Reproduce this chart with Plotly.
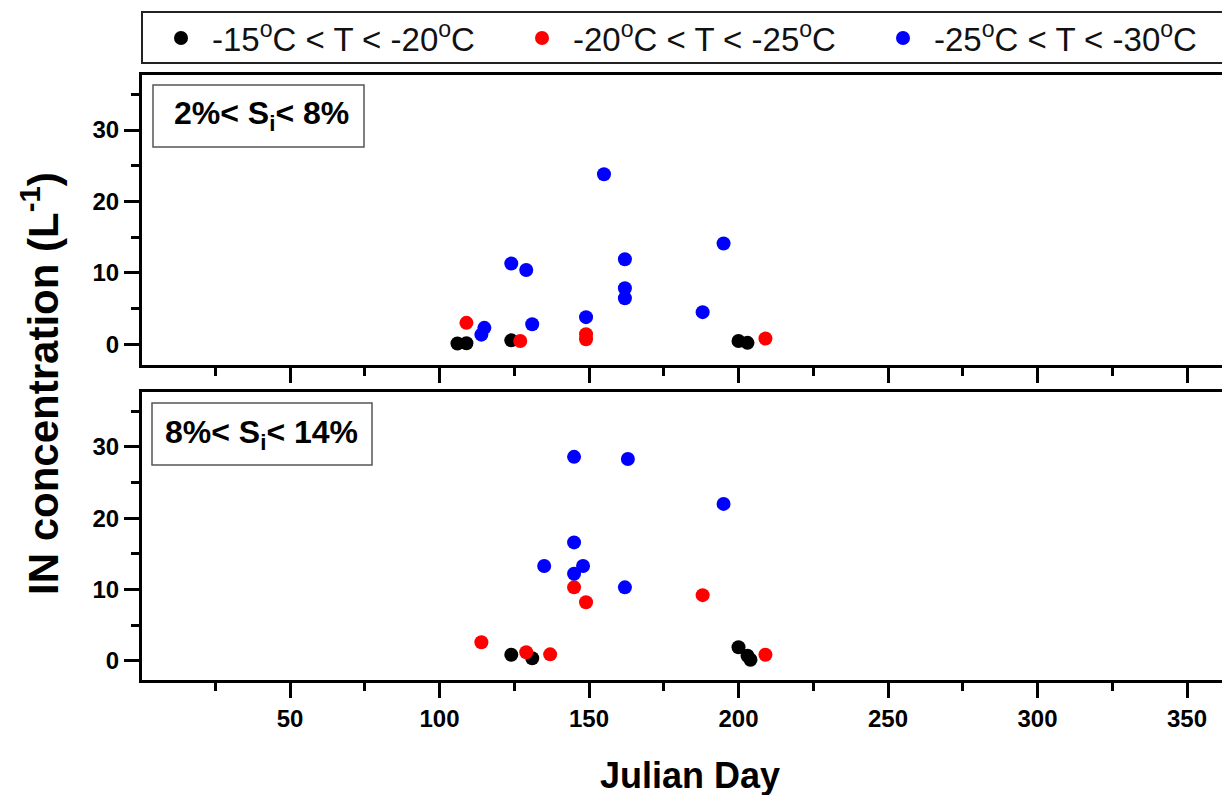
import plotly.graph_objects as go

# ---- data (Julian day, IN concentration L^-1) ----
series_names = ["-15<sup>o</sup>C < T < -20<sup>o</sup>C",
                "-20<sup>o</sup>C < T < -25<sup>o</sup>C",
                "-25<sup>o</sup>C < T < -30<sup>o</sup>C"]
series_colors = ["#000000", "#ff0000", "#0000ff"]

# top panel: 2% < Si < 8%
top_black_day = [106, 109, 124, 200, 203]
top_black_val = [0.1, 0.15, 0.55, 0.45, 0.2]
top_red_day = [109, 127, 149, 149, 209]
top_red_val = [3.0, 0.45, 1.4, 0.7, 0.8]
top_blue_day = [114, 115, 124, 129, 131, 149, 155, 162, 162, 162, 188, 195]
top_blue_val = [1.35, 2.3, 11.3, 10.4, 2.8, 3.8, 23.8, 11.9, 7.85, 6.45, 4.5, 14.1]

# bottom panel: 8% < Si < 14%
bot_black_day = [124, 131, 200, 203, 204]
bot_black_val = [0.85, 0.35, 1.9, 0.7, 0.15]
bot_red_day = [114, 129, 137, 145, 149, 188, 209]
bot_red_val = [2.6, 1.2, 0.9, 10.3, 8.2, 9.2, 0.85]
bot_blue_day = [135, 145, 145, 145, 148, 162, 163, 195]
bot_blue_val = [13.3, 12.2, 16.6, 28.6, 13.3, 10.3, 28.3, 22.0]

panel_labels = ["<b>2%< S<sub>i</sub>< 8%</b>", "<b>8%< S<sub>i</sub>< 14%</b>"]
x_major = [50, 100, 150, 200, 250, 300, 350]
y_major = [0, 10, 20, 30]

# page body has an 8px margin: figure is drawn at (8, 8) in the window
OFF = 8
W, H = 1230 - OFF, 795 - OFF
FONT = "Liberation Sans, Arial, sans-serif"

def px(x):
    return (x - OFF) / W

def py(y):
    return 1 - (y - OFF) / H

fig = go.Figure()

top = [(top_black_day, top_black_val), (top_red_day, top_red_val), (top_blue_day, top_blue_val)]
bot = [(bot_black_day, bot_black_val), (bot_red_day, bot_red_val), (bot_blue_day, bot_blue_val)]

for i, (d, v) in enumerate(top):
    fig.add_trace(go.Scatter(x=d, y=v, mode="markers", name=series_names[i],
                             marker=dict(color=series_colors[i], size=14),
                             xaxis="x", yaxis="y", showlegend=True))
for i, (d, v) in enumerate(bot):
    fig.add_trace(go.Scatter(x=d, y=v, mode="markers", name=series_names[i],
                             marker=dict(color=series_colors[i], size=14),
                             xaxis="x2", yaxis="y2", showlegend=False))

tick_font = dict(family=FONT, size=24, color="black", weight="bold")
common_x = dict(range=[0.5, 363.7], showline=True, linewidth=3, linecolor="black",
                mirror=True, ticks="outside", ticklen=15, tickwidth=3, tickcolor="black",
                tickvals=x_major, showgrid=False, zeroline=False, automargin=False,
                minor=dict(ticks="outside", ticklen=8, tickwidth=3, tickcolor="black",
                           tick0=25, dtick=50),
                tickfont=tick_font)
common_y = dict(showline=True, linewidth=3, linecolor="black", mirror=True,
                ticks="outside", ticklen=15, tickwidth=3, tickcolor="black",
                tickvals=y_major, showgrid=False, zeroline=False, automargin=False,
                minor=dict(ticks="outside", ticklen=8, tickwidth=3, tickcolor="black",
                           tick0=5, dtick=10),
                tickfont=tick_font)

fig.update_layout(
    width=W, height=H,
    margin=dict(l=0, r=0, t=0, b=0, autoexpand=False),
    paper_bgcolor="white", plot_bgcolor="white",
    xaxis=dict(domain=[px(142), px(1228)], anchor="y", showticklabels=False, **common_x),
    yaxis=dict(domain=[py(365), py(75)], anchor="x", range=[-2.9, 37.7], **common_y),
    xaxis2=dict(domain=[px(142), px(1228)], anchor="y2", showticklabels=True, **common_x),
    yaxis2=dict(domain=[py(680), py(392)], anchor="x2", range=[-2.7, 37.7], **common_y),
    legend=dict(orientation="h", x=px(150), xanchor="left", y=py(38), yanchor="middle",
                bgcolor="rgba(0,0,0,0)", borderwidth=0, itemwidth=52,
                entrywidth=294, entrywidthmode="pixels",
                font=dict(family=FONT, size=33, color="#111111")),
    showlegend=True,
)

# legend frame
fig.add_shape(type="rect", xref="paper", yref="paper",
              x0=px(142), x1=px(1228), y0=py(63), y1=py(12),
              line=dict(color="#222222", width=2), fillcolor="rgba(0,0,0,0)")

# panel label boxes
fig.add_shape(type="rect", xref="paper", yref="paper",
              x0=px(153), x1=px(364), y0=py(147), y1=py(85),
              line=dict(color="#555555", width=1.5))
fig.add_shape(type="rect", xref="paper", yref="paper",
              x0=px(152), x1=px(372), y0=py(465), y1=py(403),
              line=dict(color="#555555", width=1.5))
fig.add_annotation(xref="paper", yref="paper", x=px(262), y=py(116),
                   text=panel_labels[0], showarrow=False,
                   font=dict(family=FONT, size=32, color="black"),
                   xanchor="center", yanchor="middle")
fig.add_annotation(xref="paper", yref="paper", x=px(262), y=py(434),
                   text=panel_labels[1], showarrow=False,
                   font=dict(family=FONT, size=32, color="black"),
                   xanchor="center", yanchor="middle")

# axis titles
fig.add_annotation(xref="paper", yref="paper", x=px(40), y=py(384),
                   text="<b>IN concentration (L<sup>-1</sup>)</b>", textangle=-90,
                   showarrow=False, font=dict(family=FONT, size=42, color="black"),
                   xanchor="center", yanchor="middle")
fig.add_annotation(xref="paper", yref="paper", x=px(690), y=py(775),
                   text="<b>Julian Day</b>", showarrow=False,
                   font=dict(family=FONT, size=36, color="black"),
                   xanchor="center", yanchor="middle")

fig.write_html("out.html")
